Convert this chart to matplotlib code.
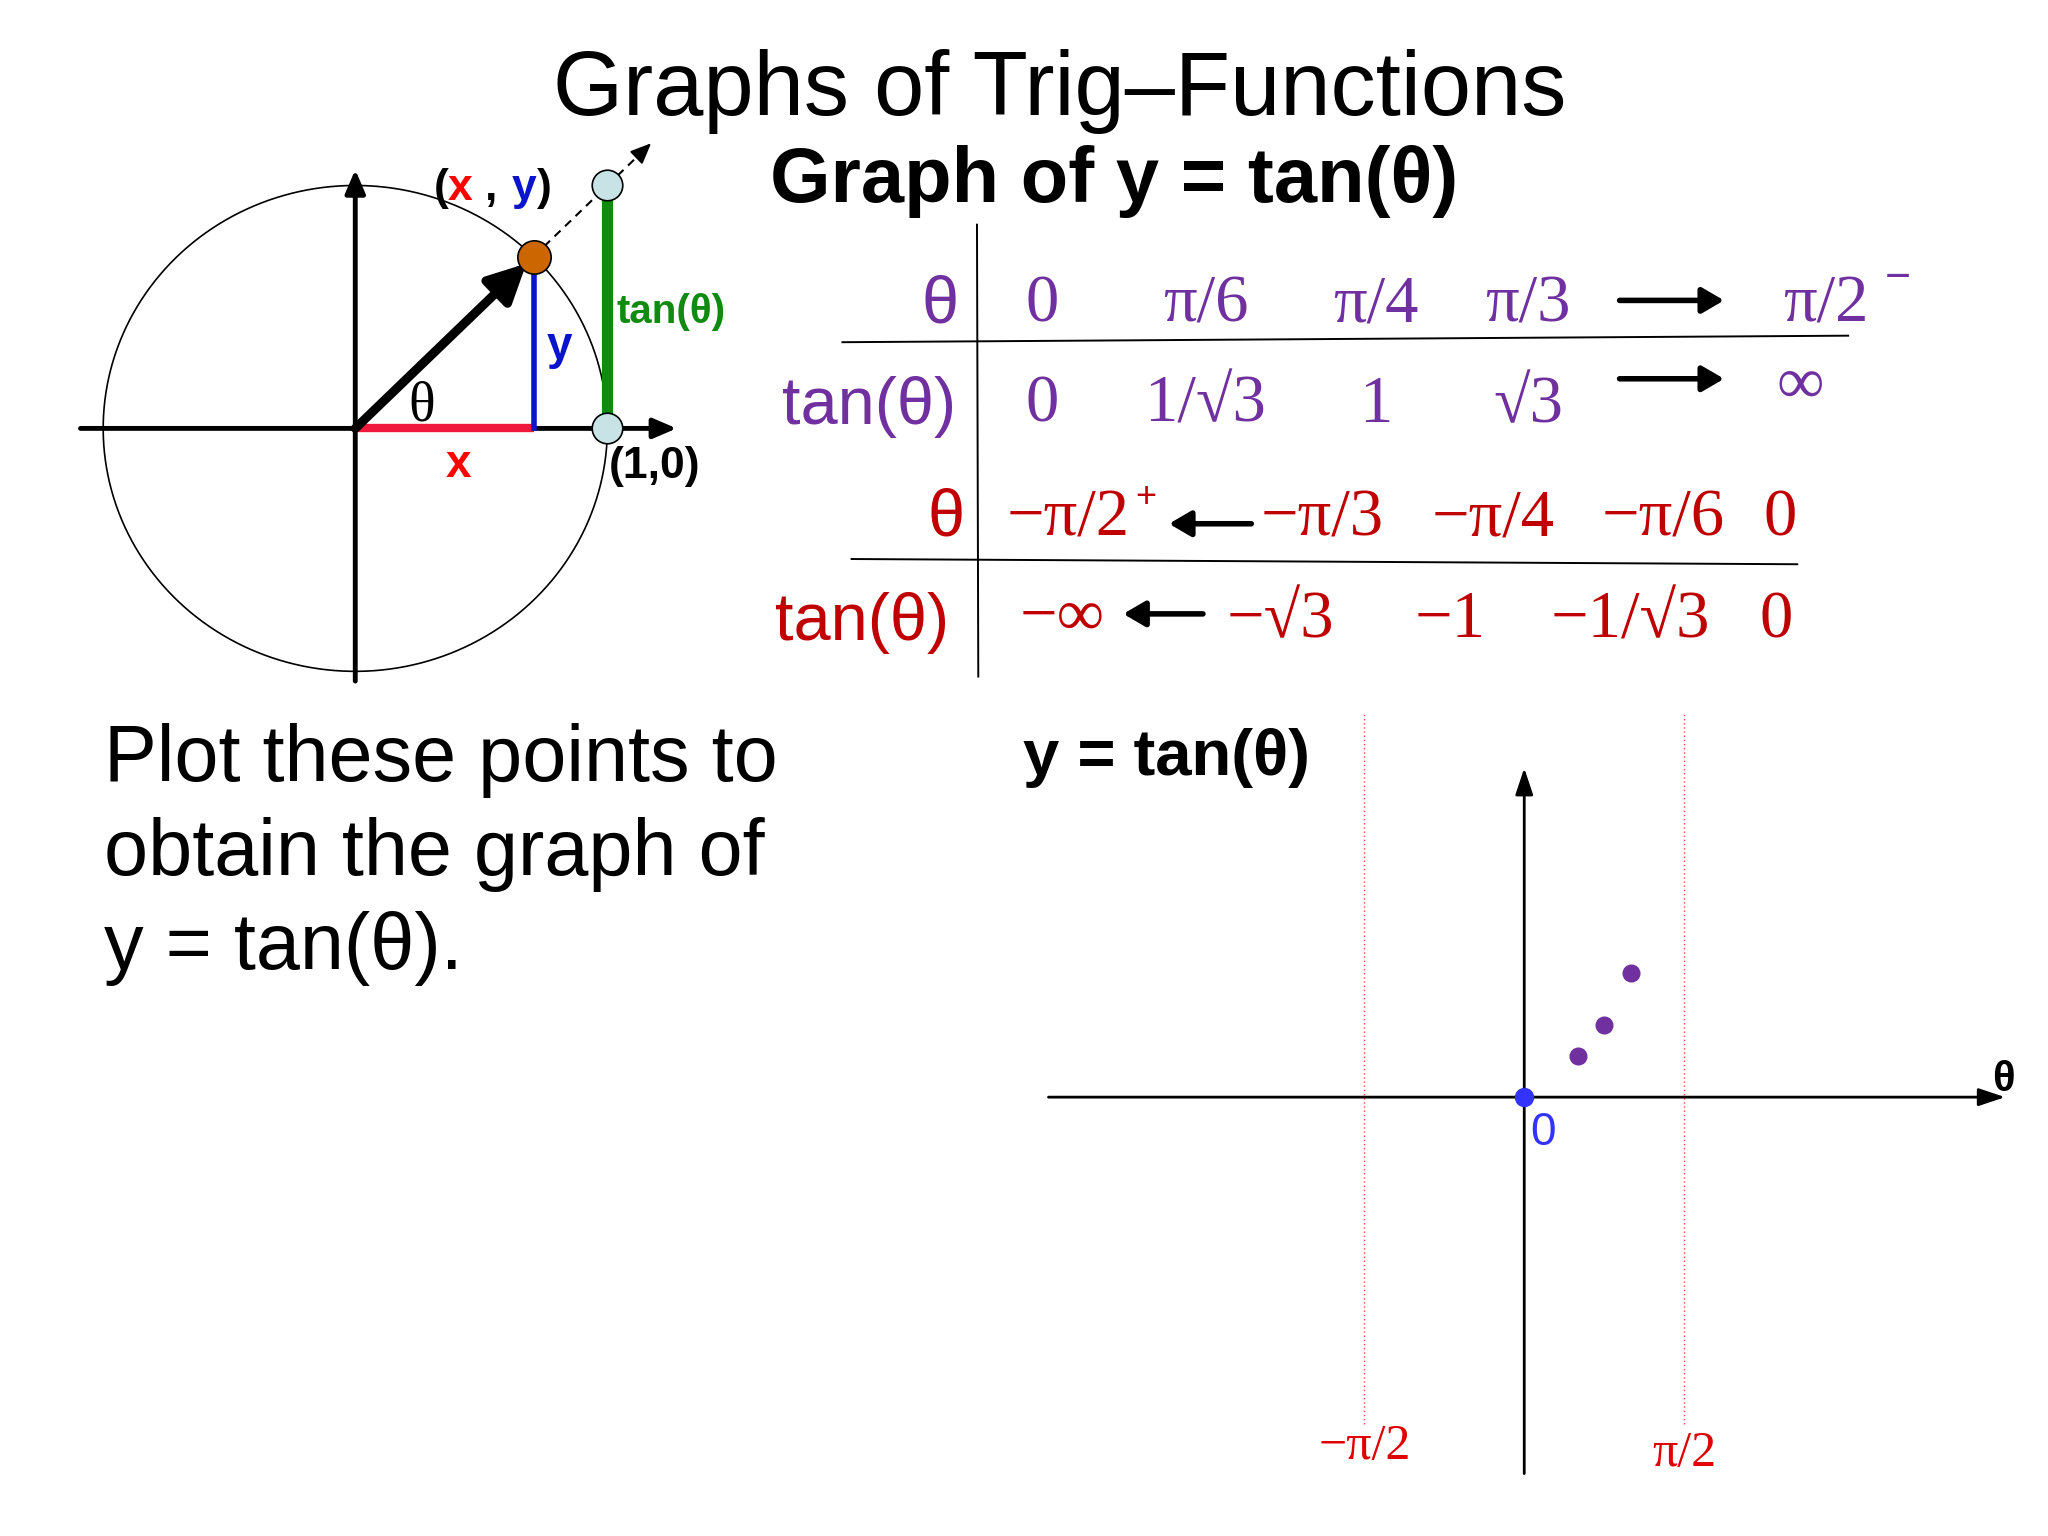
import numpy as np
import matplotlib.pyplot as plt

SANS = ["Liberation Sans", "DejaVu Sans"]
SERIF = ["Liberation Serif", "DejaVu Serif"]
PURPLE = "#7030A0"
DARKRED = "#C00000"

# table entries
theta_top = ["0", "π/6", "π/4", "π/3"]
tan_top = ["0", "1/√3", "1", "√3"]
theta_bottom = ["−π/3", "−π/4", "−π/6", "0"]
tan_bottom = ["−√3", "−1", "−1/√3", "0"]

# points already plotted on the graph
theta_pts = [np.pi / 6, np.pi / 4, np.pi / 3]
tan_pts = [1 / np.sqrt(3), 1.0, np.sqrt(3)]

# angle drawn in the unit circle
theta_demo = np.pi / 4

# layout in reference pixel units (1568 x 1176)
W, H = 1568, 1176

fig = plt.figure(figsize=(20.48, 15.36), dpi=100)
bg = fig.add_axes([0, 0, 1, 1])
bg.set_xlim(0, W)
bg.set_ylim(H, 0)
bg.axis("off")


def box(x0, y0, x1, y1):
    return [x0 / W, 1 - y1 / H, (x1 - x0) / W, (y1 - y0) / H]


def arrow(ax, x0, y0, x1, y1, lw, ms, hl=0.7, hw=0.3, color="black"):
    ax.annotate("", xy=(x1, y1), xytext=(x0, y0),
                arrowprops=dict(arrowstyle=f"-|>,head_length={hl},head_width={hw}",
                                lw=lw, color=color, shrinkA=0, shrinkB=0,
                                mutation_scale=ms))


# titles
bg.text(811, 88, "Graphs of Trig–Functions", family=SANS, fontsize=65,
        ha="center", va="baseline")
bg.text(853, 155, "Graph of y = tan(θ)", family=SANS, fontsize=56,
        weight="bold", ha="center", va="baseline")

# ---------------- unit circle ----------------
cx, cy, sx, sy = 272, 328, 193, 186
xl, yl = (-1.2, 1.4), (-1.07, 1.25)
uc = fig.add_axes(box(cx + xl[0] * sx, cy - yl[1] * sy, cx + xl[1] * sx, cy - yl[0] * sy))
uc.set_xlim(*xl)
uc.set_ylim(*yl)
uc.axis("off")
uc.patch.set_alpha(0)

t = np.linspace(0, 2 * np.pi, 400)
uc.plot(np.cos(t), np.sin(t), color="black", lw=1.2)
arrow(uc, -1.09, 0, 1.275, 0, lw=3.5, ms=20)
arrow(uc, 0, -1.04, 0, 1.065, lw=3.5, ms=20)

c, s = np.cos(theta_demo), np.sin(theta_demo)
uc.plot([0, c], [0, 0], color="#F0183C", lw=6, solid_capstyle="butt", zorder=3)
uc.plot([c, c], [0, s * 0.95], color="#0A14CC", lw=4, zorder=3)
uc.plot([1, 1], [0, np.tan(theta_demo)], color="#118A11", lw=8, zorder=3)
uc.plot([c, 1.6 * c], [s, 1.6 * s], color="black", lw=1.5, ls=(0, (4, 3)))
arrow(uc, 1.58 * c, 1.58 * s, 1.66 * c, 1.66 * s, lw=1.5, ms=18)
arrow(uc, 0, 0, 0.96 * c, 0.96 * s, lw=6.5, ms=28, hl=0.8, hw=0.4)
uc.plot([c], [s], "o", ms=24, mfc="#CC6600", mec="black", mew=1.2, zorder=5)
uc.plot([1, 1], [0, np.tan(theta_demo)], "o", ls="none", ms=22,
        mfc="#C8E3E6", mec="black", mew=1.2, zorder=5)

bg.text(338, 153, "(", family=SANS, fontsize=32, weight="bold", ha="center", va="baseline")
bg.text(352, 153, "x", family=SANS, fontsize=32, weight="bold", ha="center", va="baseline", color="red")
bg.text(376, 153, ",", family=SANS, fontsize=32, weight="bold", ha="center", va="baseline")
bg.text(401, 153, "y", family=SANS, fontsize=32, weight="bold", ha="center", va="baseline", color="#0A14CC")
bg.text(417, 153, ")", family=SANS, fontsize=32, weight="bold", ha="center", va="baseline")
bg.text(472, 247, "tan(θ)", family=SANS, fontsize=29, weight="bold", ha="left",
        va="baseline", color="#118A11")
bg.text(428, 275, "y", family=SANS, fontsize=33, weight="bold", ha="center",
        va="baseline", color="#0A14CC")
bg.text(323, 322, "θ", family=SERIF, fontsize=40, ha="center", va="baseline")
bg.text(351, 365, "x", family=SANS, fontsize=33, weight="bold", ha="center",
        va="baseline", color="red")
bg.text(466, 366, "(1,0)", family=SANS, fontsize=32, weight="bold", ha="left", va="baseline")

# ---------------- table ----------------
bg.plot([748, 749], [172, 518], color="black", lw=1.4)
bg.plot([645, 1415], [262, 257], color="black", lw=1.4)
bg.plot([652, 1376], [428, 432], color="black", lw=1.4)

col_top = [798, 923, 1053, 1170]
col_bottom = [1012, 1143, 1273, 1363]
col_bottom4 = [980, 1110, 1248, 1360]
fs_tab = 48

bg.text(720, 247, "θ", family=SANS, fontsize=fs_tab, color=PURPLE, ha="center", va="baseline")
bg.text(732, 325, "tan(θ)", family=SANS, fontsize=fs_tab, color=PURPLE, ha="right", va="baseline")
for x, lab in zip(col_top, theta_top):
    bg.text(x, 246, lab, family=SERIF, fontsize=fs_tab, color=PURPLE, ha="center", va="baseline")
for x, lab in zip(col_top, tan_top):
    bg.text(x, 323, lab, family=SERIF, fontsize=fs_tab, color=PURPLE, ha="center", va="baseline")
bg.text(1398, 246, "π/2", family=SERIF, fontsize=fs_tab, color=PURPLE, ha="center", va="baseline")
bg.text(1453, 222, "−", family=SANS, fontsize=32, color=PURPLE, ha="center", va="baseline")
bg.text(1378, 308, "∞", family=SERIF, fontsize=fs_tab, color=PURPLE, ha="center", va="baseline")
arrow(bg, 1240, 230, 1320, 230, lw=4, ms=22, hl=0.6, hw=0.35)
arrow(bg, 1240, 290, 1320, 290, lw=4, ms=22, hl=0.6, hw=0.35)

bg.text(724, 410, "θ", family=SANS, fontsize=fs_tab, color=DARKRED, ha="center", va="baseline")
bg.text(727, 490, "tan(θ)", family=SANS, fontsize=fs_tab, color=DARKRED, ha="right", va="baseline")
bg.text(818, 410, "−π/2", family=SERIF, fontsize=fs_tab, color=DARKRED, ha="center", va="baseline")
bg.text(877, 388, "+", family=SANS, fontsize=26, color=DARKRED, ha="center", va="baseline")
for x, lab in zip(col_bottom, theta_bottom):
    bg.text(x, 410, lab, family=SERIF, fontsize=fs_tab, color=DARKRED, ha="center", va="baseline")
bg.text(813, 486, "−∞", family=SERIF, fontsize=fs_tab, color=DARKRED, ha="center", va="baseline")
for x, lab in zip(col_bottom4, tan_bottom):
    bg.text(x, 488, lab, family=SERIF, fontsize=fs_tab, color=DARKRED, ha="center", va="baseline")
arrow(bg, 958, 401, 895, 401, lw=4, ms=22, hl=0.6, hw=0.35)
arrow(bg, 921, 470, 860, 470, lw=4, ms=22, hl=0.6, hw=0.35)

# ---------------- instructions ----------------
for y, line in zip([598, 670, 742], ["Plot these points to", "obtain the graph of", "y = tan(θ)."]):
    bg.text(80, y, line, family=SANS, fontsize=57, ha="left", va="baseline")

# ---------------- graph ----------------
ox, oy, gx, gy = 1167, 840, 78, 55
gxl, gyl = (-4.8, 4.85), (-5.5, 5.5)
g = fig.add_axes(box(ox + gxl[0] * gx, oy - gyl[1] * gy, ox + gxl[1] * gx, oy - gyl[0] * gy))
g.set_xlim(*gxl)
g.set_ylim(*gyl)
g.axis("off")
g.patch.set_alpha(0)

bg.text(893, 593, "y = tan(θ)", family=SANS, fontsize=47, weight="bold", ha="center", va="baseline")

arrow(g, -4.67, 0, 4.72, 0, lw=2, ms=18, hl=0.9, hw=0.3)
arrow(g, 0, -5.24, 0, 4.58, lw=2, ms=18, hl=0.9, hw=0.3)
for a in (-np.pi / 2, np.pi / 2):
    g.plot([a, a], [-4.55, 5.35], color="#FF4A4A", lw=1, ls=(0, (1, 2)))
g.text(-np.pi / 2, -5.04, "−π/2", family=SERIF, fontsize=36, color="#E00000", ha="center", va="baseline")
g.text(np.pi / 2, -5.13, "π/2", family=SERIF, fontsize=36, color="#E00000", ha="center", va="baseline")
g.text(4.7, 0.09, "θ", family=SANS, fontsize=30, weight="bold", ha="center", va="baseline")

g.plot([0], [0], "o", ms=13, color="#3333FF", zorder=5)
g.text(0.18, -0.66, "0", family=SANS, fontsize=33, color="#3333FF", ha="center", va="baseline")
g.plot(theta_pts, tan_pts, "o", ls="none", ms=12, color=PURPLE, zorder=5)

fig.savefig("out.png", dpi=100, facecolor="white")
